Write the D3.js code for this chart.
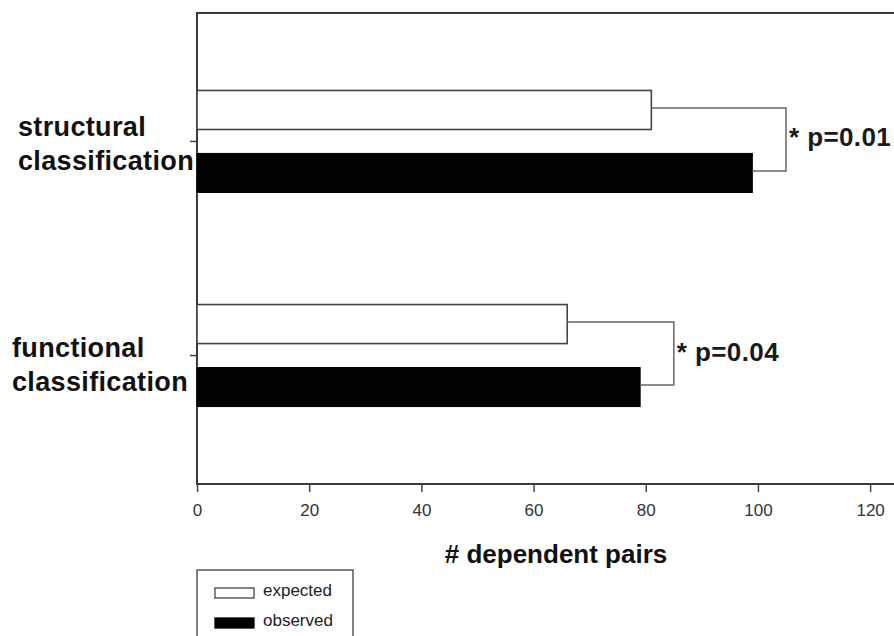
<!DOCTYPE html>
<html>
<head>
<meta charset="utf-8">
<script src="https://cdn.jsdelivr.net/npm/d3@7"></script>
<style>
  html, body { margin: 0; padding: 0; background: #fff; }
  svg { display: block; font-family: "Liberation Sans", Arial, sans-serif; }
</style>
</head>
<body>
<svg id="chart" width="894" height="636"></svg>
<script>
// ---- data ----
const categories = ["structural classification", "functional classification"];
const categoryLines = [["structural", "classification"], ["functional", "classification"]];
const seriesNames = ["expected", "observed"];
const expected = [81, 66];
const observed = [99, 79];
const bracketAt = [105, 85];
const pLabels = ["* p=0.01", "* p=0.04"];
const xTicks = [0, 20, 40, 60, 80, 100, 120];
const xTitle = "# dependent pairs";

// ---- layout ----
const plot = { left: 197, top: 13, right: 915, bottom: 484 };
const labelLayout = [{ x: 18, dy: -5 }, { x: 12, dy: 1 }];

const svg = d3.select("#chart");

const x = d3.scaleLinear().domain([0, 128]).range([plot.left, plot.right]);
const y = d3.scalePoint().domain(categories).range([plot.top, plot.bottom]).padding(0.6);
const inner = d3.scaleBand().domain(seriesNames).range([-51, 51]).paddingInner(0.38);

const rows = categories.map((c, i) => ({
  cat: c, i, expected: expected[i], observed: observed[i], bracket: bracketAt[i], p: pLabels[i]
}));

// frame
svg.append("rect")
  .attr("x", plot.left).attr("y", plot.top)
  .attr("width", plot.right - plot.left).attr("height", plot.bottom - plot.top)
  .attr("fill", "none").attr("stroke", "#3a3a3a").attr("stroke-width", 2);

// bars
const g = svg.append("g");
rows.forEach(r => {
  const cy = y(r.cat);
  g.append("rect")
    .attr("x", x(0)).attr("y", cy + inner("expected"))
    .attr("width", x(r.expected) - x(0)).attr("height", inner.bandwidth())
    .attr("fill", "#fff").attr("stroke", "#444").attr("stroke-width", 1.6);
  g.append("rect")
    .attr("x", x(0)).attr("y", cy + inner("observed"))
    .attr("width", x(r.observed) - x(0)).attr("height", inner.bandwidth())
    .attr("fill", "#000").attr("stroke", "#000").attr("stroke-width", 1);

  // bracket
  const yTop = cy + inner("expected") + inner.bandwidth() / 2 - 2;
  const yBot = cy + inner("observed") + inner.bandwidth() / 2 - 2;
  g.append("path")
    .attr("d", `M${x(r.expected)},${yTop}H${x(r.bracket)}V${yBot}H${x(r.observed)}`)
    .attr("fill", "none").attr("stroke", "#666").attr("stroke-width", 1.5);
  g.append("text")
    .attr("x", x(r.bracket) + 3).attr("y", (yTop + yBot) / 2 + 7)
    .attr("font-size", 26).attr("font-weight", "bold").attr("fill", "#1a1a1a")
    .attr("letter-spacing", 0.4)
    .text(r.p);
});

// y ticks and category labels
rows.forEach(r => {
  const cy = y(r.cat);
  svg.append("line")
    .attr("x1", plot.left - 7).attr("x2", plot.left)
    .attr("y1", cy).attr("y2", cy)
    .attr("stroke", "#444").attr("stroke-width", 1.5);
  const t = svg.append("text")
    .attr("font-size", 27).attr("font-weight", "bold").attr("fill", "#111")
    .attr("letter-spacing", 0.35);
  categoryLines[r.i].forEach((line, k) => {
    t.append("tspan")
      .attr("x", labelLayout[r.i].x)
      .attr("y", cy + labelLayout[r.i].dy + k * 34)
      .text(line);
  });
});

// x axis
const xAxis = d3.axisBottom(x).tickValues(xTicks).tickSize(8).tickPadding(12);
const ax = svg.append("g").attr("transform", `translate(0,${plot.bottom})`).call(xAxis);
ax.select(".domain").remove();
ax.selectAll(".tick line").attr("stroke", "#444").attr("stroke-width", 1.5);
ax.selectAll(".tick text")
  .attr("font-size", 17).attr("fill", "#333")
  .attr("font-family", "'Liberation Sans', Arial, sans-serif");

svg.append("text")
  .attr("x", (plot.left + plot.right) / 2).attr("y", 563)
  .attr("text-anchor", "middle")
  .attr("font-size", 26).attr("font-weight", "bold").attr("fill", "#111")
  .text(xTitle);

// legend
const lg = svg.append("g");
lg.append("rect")
  .attr("x", 197).attr("y", 570).attr("width", 156).attr("height", 80)
  .attr("fill", "#fff").attr("stroke", "#555").attr("stroke-width", 1.5);
const legendColors = { expected: "#fff", observed: "#000" };
seriesNames.forEach((s, k) => {
  const cy = 593 + k * 30;
  lg.append("rect")
    .attr("x", 215).attr("y", cy - 5).attr("width", 39).attr("height", 10)
    .attr("fill", legendColors[s]).attr("stroke", s === "expected" ? "#444" : "#000").attr("stroke-width", 1.3);
  lg.append("text")
    .attr("x", 263).attr("y", cy + 3)
    .attr("font-size", 17).attr("fill", "#222")
    .text(s);
});
</script>
</body>
</html>
